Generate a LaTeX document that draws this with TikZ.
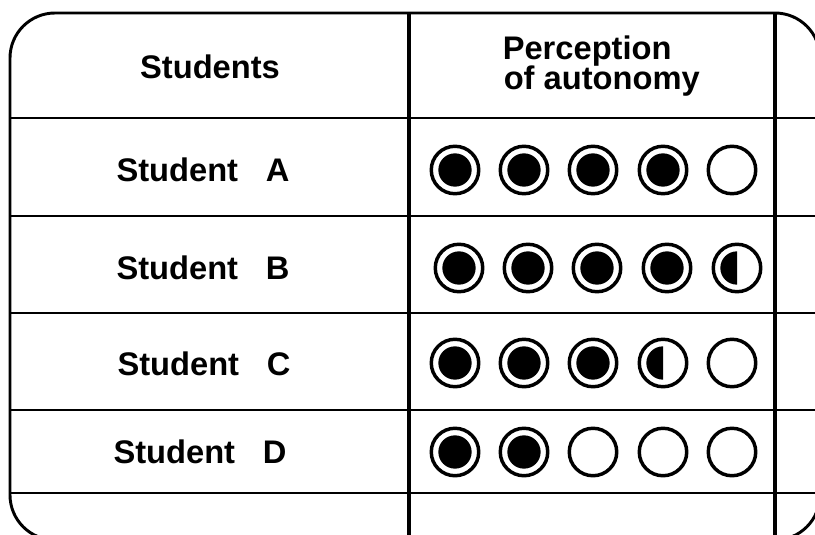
\documentclass[tikz,border=0pt]{standalone}
\usepackage{fontspec}
\setmainfont{Liberation Sans}
\newcommand\dotF[2]{\node[ring] (#1) at #2 {}; \fill (#1.center) circle[radius=12.5pt];}
\newcommand\dotH[2]{\node[ring] (#1) at #2 {}; \fill (#1.center) ++(90:12.5pt) arc[start angle=90,end angle=270,radius=12.5pt] -- cycle;}
\newcommand\dotE[2]{\node[ring] (#1) at #2 {};}
\begin{document}
\begin{tikzpicture}[x=0.75pt,y=-0.75pt,
  lbl/.style={font=\fontsize{24.5}{30}\selectfont\bfseries, inner sep=0pt},
  ring/.style={circle, draw, line width=2.6pt, minimum size=35.6pt, inner sep=0pt},
  frame/.style={line width=2.2pt},
  rowline/.style={line width=1.6pt},
  colline/.style={line width=2.6pt}]
\useasboundingbox (0,0) rectangle (815,535);
\clip (0,0) rectangle (815,535);
% frame
\draw[frame, rounded corners=33.75pt] (10,13) rectangle (820,540);
\draw[frame] (10,118) -- (820,118);
\foreach \yy in {216,313,410,493} \draw[rowline] (10,\yy) -- (820,\yy);
\draw[colline] (409,13) -- (409,540);
\draw[colline] (775,13) -- (775,540);
% headers
\node[lbl] (hs) at (210,66.5) {Students};
\node[lbl, anchor=base west] (hp1) at (502.5,60) {Perception};
\node[lbl, anchor=base west] (hp2) at (503.5,90) {of autonomy};
% labels
\node[lbl] (sa) at (203,170) {Student\hspace{0.85em}A};
\node[lbl] (sb) at (203,268) {Student\hspace{0.85em}B};
\node[lbl] (sc) at (204,364) {Student\hspace{0.85em}C};
\node[lbl] (sd) at (200,452) {Student\hspace{0.85em}D};
% row A
\dotF{a1}{(455,170)} \dotF{a2}{(524,170)} \dotF{a3}{(593,170)} \dotF{a4}{(663,170)} \dotE{a5}{(732,170)}
% row B
\dotF{b1}{(459,268)} \dotF{b2}{(528,268)} \dotF{b3}{(597,268)} \dotF{b4}{(667,268)} \dotH{b5}{(737,268)}
% row C
\dotF{c1}{(455,363)} \dotF{c2}{(524,363)} \dotF{c3}{(593,363)} \dotH{c4}{(663,363)} \dotE{c5}{(732,363)}
% row D
\dotF{d1}{(455,452)} \dotF{d2}{(524,452)} \dotE{d3}{(593,452)} \dotE{d4}{(663,452)} \dotE{d5}{(732,452)}
\end{tikzpicture}
\end{document}
